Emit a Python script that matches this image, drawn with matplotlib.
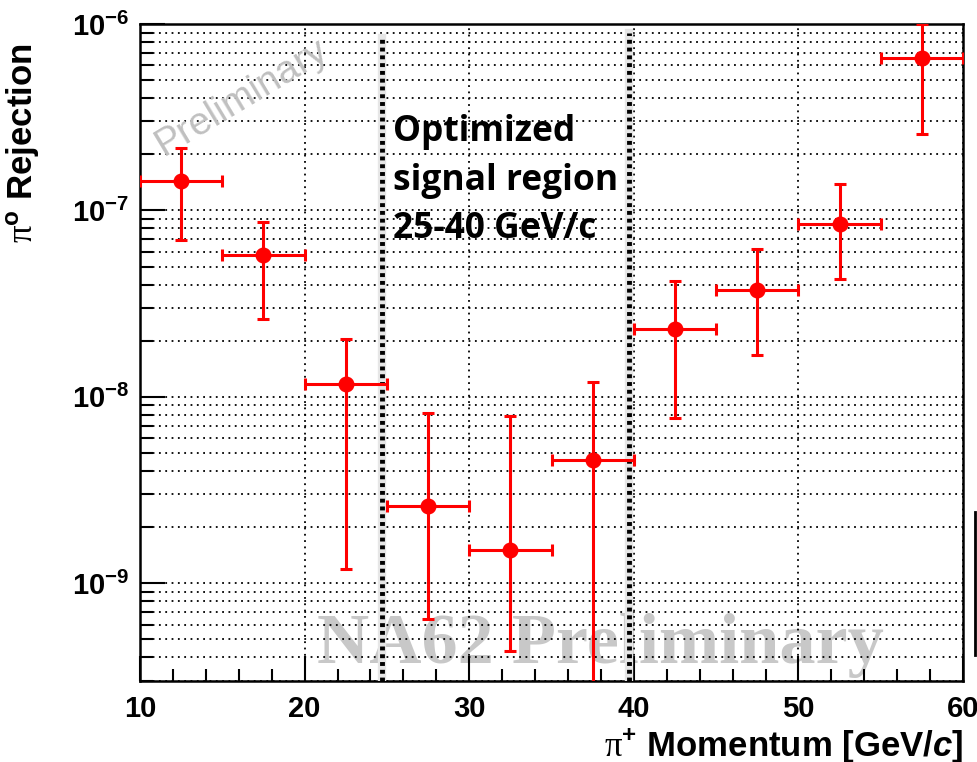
import matplotlib
matplotlib.use("Agg")
import matplotlib.pyplot as plt
from matplotlib.lines import Line2D
from matplotlib.ticker import FixedLocator, FuncFormatter, LogLocator, NullFormatter, MultipleLocator
import numpy as np

# pi+ momentum bins (GeV/c) and pi0 rejection with asymmetric errors
p_mid = [12.5, 17.5, 22.5, 27.5, 32.5, 37.5, 42.5, 47.5, 52.5, 57.5]
p_half = [2.5, 2.5, 2.5, 2.5, 2.5, 2.5, 2.5, 2.5, 2.5, 2.5]
rej = [1.43e-7, 5.8e-8, 1.17e-8, 2.6e-9, 1.5e-9, 4.6e-9, 2.3e-8, 3.75e-8, 8.5e-8, 6.6e-7]
rej_up = [2.15e-7, 8.7e-8, 2.05e-8, 8.2e-9, 7.9e-9, 1.2e-8, 4.2e-8, 6.2e-8, 1.39e-7, 1.0e-6]
rej_lo = [6.9e-8, 2.6e-8, 1.19e-9, 6.4e-10, 4.35e-10, 1e-10, 7.7e-9, 1.68e-8, 4.3e-8, 2.58e-7]
region_edges = [24.7, 39.7]
x_ticks = [10, 20, 30, 40, 50, 60]

plt.rcParams['mathtext.fontset'] = 'custom'
plt.rcParams['mathtext.rm'] = 'Liberation Serif'
plt.rcParams['mathtext.it'] = 'Liberation Sans:bold:italic'
plt.rcParams['mathtext.bf'] = 'Liberation Sans:bold'
plt.rcParams['font.family'] = 'Liberation Sans'

fig = plt.figure(figsize=(9.77, 7.62), dpi=100)
ax = fig.add_axes([0.1433, 0.1067, 0.8424, 0.8618])

rej = np.array(rej)
yerr = [rej - np.array(rej_lo), np.array(rej_up) - rej]
ax.errorbar(p_mid, rej, xerr=p_half, yerr=yerr, fmt='o', color='#ff0000', ms=10.5,
            elinewidth=2.2, capsize=4, capthick=2.2, zorder=5)

ax.set_yscale('log')
ax.set_xlim(10, 60)
ax.set_ylim(3e-10, 1e-6)

# grid: all y ticks (incl. minor), x only majors
ax.xaxis.set_major_locator(FixedLocator(x_ticks))
ax.xaxis.set_minor_locator(MultipleLocator(2))
ax.yaxis.set_major_locator(LogLocator(base=10, numticks=10))
ax.yaxis.set_minor_locator(LogLocator(base=10, subs=np.arange(2, 10), numticks=20))
ax.yaxis.set_minor_formatter(NullFormatter())
ax.yaxis.set_major_formatter(FuncFormatter(
    lambda v, pos: r'$\mathbf{10^{%d}}$' % int(round(np.log10(v)))))
ax.xaxis.set_major_formatter(FuncFormatter(lambda v, pos: '%d' % v))

ax.grid(True, which='major', axis='x', color='black', linestyle=(0, (1, 2.5)), linewidth=1.3)
ax.grid(True, which='both', axis='y', color='black', linestyle=(0, (1, 2.5)), linewidth=1.3)
ax.set_axisbelow(True)

ax.tick_params(which='major', direction='in', length=18, width=1.5, labelsize=21, pad=10)
ax.tick_params(which='minor', direction='in', length=9, width=1.5)
ax.tick_params(axis='y', which='major', pad=8)
for lab in ax.get_xticklabels():
    lab.set_fontweight('bold')
for s in ax.spines.values():
    s.set_linewidth(1.8)

# signal region boundaries
for xe, top in zip(region_edges, [0.979, 0.986]):
    ax.axvline(xe, ymin=0, ymax=top, color='#e6e6e6', linewidth=6, zorder=3)
    ax.axvline(xe, ymin=0, ymax=top, color='black', linewidth=3.5,
               linestyle=(0, (0.8, 0.8)), zorder=4)

fig.text(393 / 977, 1 - 114 / 762, 'Optimized\nsignal region\n25-40 GeV/c',
         fontfamily='Open Sans', fontweight='bold', fontsize=25.5, va='top', ha='left',
         linespacing=1.47, zorder=6)

# watermarks
fig.text(242 / 977, 1 - 97 / 762, 'Preliminary', rotation=31, color='#c0c0c0',
         fontsize=28, ha='center', va='center', fontfamily='Liberation Sans', zorder=0)
ax.text(0.56, 0.027, 'NA62 Preliminary', transform=ax.transAxes, color='#c8c8c8',
        fontsize=52, fontweight='bold', fontfamily='Liberation Serif',
        ha='center', va='baseline', zorder=0.5)

ax.set_ylabel(r'$\mathrm{\pi}^{\mathbf{o}}$ Rejection', fontsize=25, fontweight='bold',
              ha='right')
ax.yaxis.set_label_coords(-0.119, 0.971)
ax.set_xlabel(r'$\mathrm{\pi}^{\mathbf{+}}$ Momentum [GeV/$\mathit{c}$]', fontsize=25,
              fontweight='bold', ha='right')
ax.xaxis.set_label_coords(1.0, -0.069)

fig.add_artist(Line2D([975 / 977, 975 / 977], [1 - 512 / 762, 1 - 655 / 762],
                      color='black', linewidth=2))

fig.savefig('out.png', dpi=100)
